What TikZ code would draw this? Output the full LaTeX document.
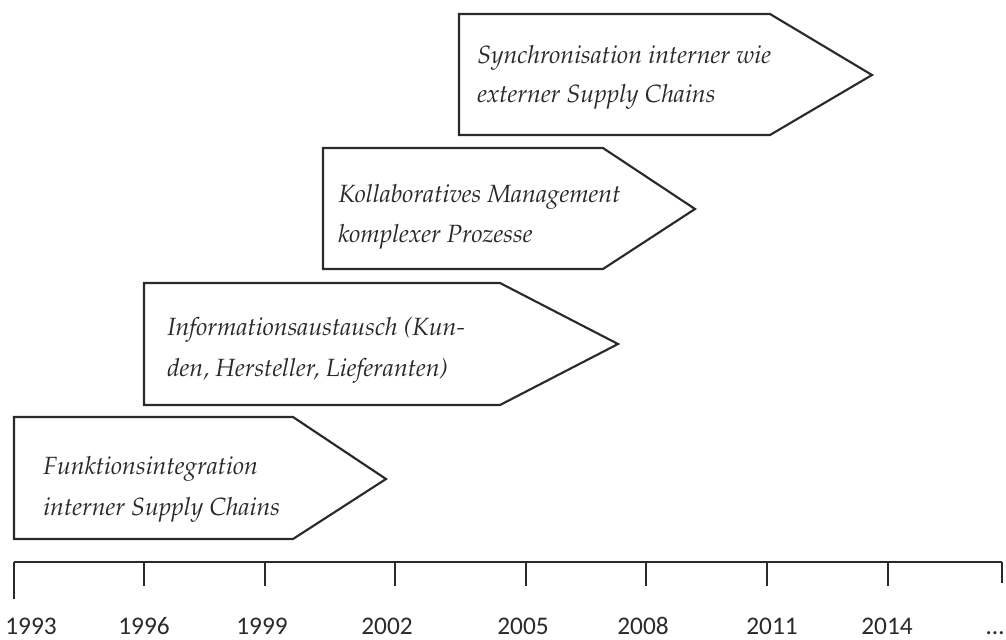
\documentclass[tikz,border=0pt]{standalone}
\usepackage[T1]{fontenc}
\usepackage{fontspec}
\newfontfamily\yearfont{Carlito}
\newcommand\stagefont{\fontencoding{T1}\fontfamily{ppl}\fontseries{m}\fontshape{it}\selectfont}
\definecolor{ink}{HTML}{2A2A2A}
\begin{document}
\begin{tikzpicture}[x=0.75pt,y=-0.75pt,
  stageshape/.style={draw=ink,line width=1.6pt,fill=white,line join=miter},
  stagetext/.style={anchor=base west,inner sep=0pt,text=ink,font=\fontsize{18.7}{22}\stagefont},
  axisline/.style={draw=ink,line width=1.6pt},
  tickline/.style={draw=ink,line width=1.4pt},
  yearlabel/.style={anchor=base,inner sep=0pt,text depth=0pt,text=ink,font=\yearfont\fontsize{19}{22}\selectfont}]
\useasboundingbox (0,0) rectangle (1006,639);

% stage arrows: rectangle body with a pointed right end
% 1: Funktionsintegration
\draw[stageshape] (14,417) -- (293,417) -- (386,479) -- (293,539) -- (14,539) -- cycle;
\node[stagetext] (s1a) at (43,474) {Funktionsintegration};
\node[stagetext] (s1b) at (43,515) {interner Supply Chains};

% 2: Informationsaustausch
\draw[stageshape] (144,283) -- (500,283) -- (618,344) -- (500,405) -- (144,405) -- cycle;
\node[stagetext] (s2a) at (167,335) {Informationsaustausch (Kun-};
\node[stagetext] (s2b) at (167,376) {den, Hersteller, Lieferanten)};

% 3: Kollaboratives Management
\draw[stageshape] (323,148) -- (603,148) -- (695,209) -- (603,269) -- (323,269) -- cycle;
\node[stagetext] (s3a) at (338,202) {Kollaboratives Management};
\node[stagetext] (s3b) at (338,242) {komplexer Prozesse};

% 4: Synchronisation
\draw[stageshape] (459,14) -- (770,14) -- (872,75) -- (770,135) -- (459,135) -- cycle;
\node[stagetext] (s4a) at (477,63) {Synchronisation interner wie};
\node[stagetext] (s4b) at (477,102) {externer Supply Chains};

% time axis
\coordinate (axL) at (14,562);
\coordinate (axR) at (1002,562);
\draw[axisline] (axL) -- (axR);
\draw[tickline] (axL) -- (14,599);
\foreach \x in {144,265,395,526,646,767,888}
  \draw[tickline] (\x,562) -- (\x,586);
\draw[tickline] (axR) -- (1002,583);

% year labels
\node[yearlabel] (y1993) at (31,634) {1993};
\node[yearlabel] (y1996) at (144,634) {1996};
\node[yearlabel] (y1999) at (262,634) {1999};
\node[yearlabel] (y2002) at (387,634) {2002};
\node[yearlabel] (y2005) at (523,634) {2005};
\node[yearlabel] (y2008) at (643,634) {2008};
\node[yearlabel] (y2011) at (772,634) {2011};
\node[yearlabel] (y2014) at (887,634) {2014};
\node[yearlabel] (ydots) at (995,634) {…};
\end{tikzpicture}
\end{document}
